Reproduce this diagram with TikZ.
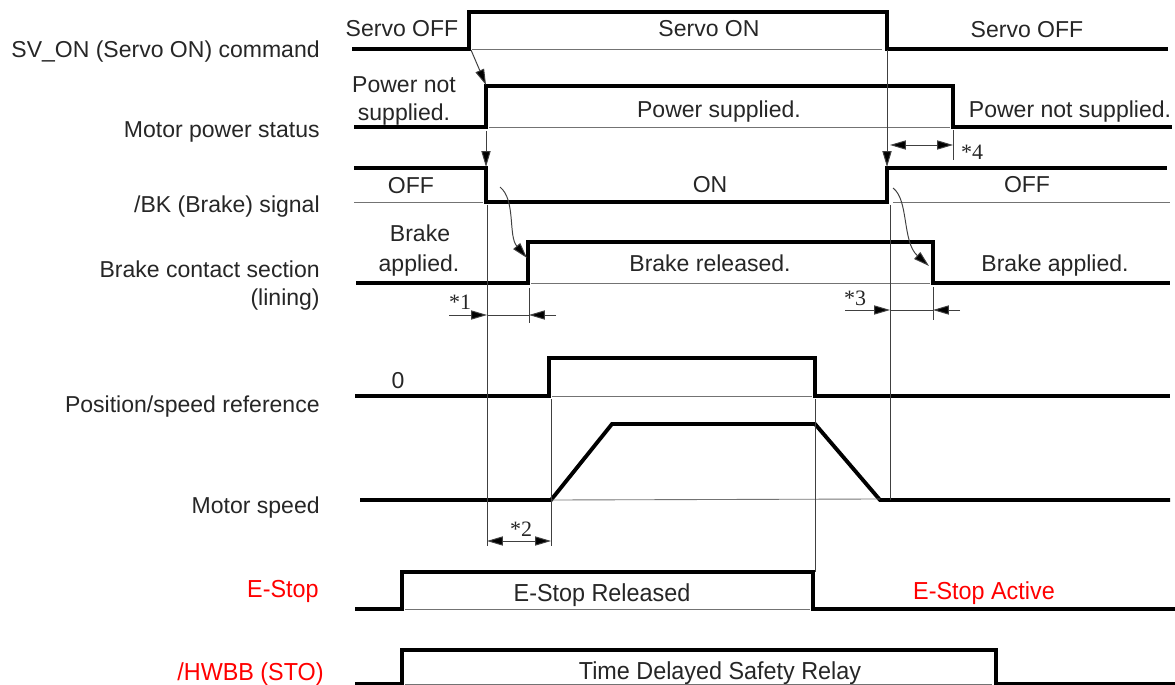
\documentclass[tikz,border=0pt]{standalone}
\usepackage{fontspec}
\setmainfont{Liberation Sans}
\newfontfamily\stopfont[FakeStretch=0.95]{Liberation Sans}
\newfontfamily\notefont{Liberation Serif}
\usetikzlibrary{arrows.meta}
\definecolor{stopred}{RGB}{255,0,0}
\begin{document}
\begin{tikzpicture}[x=0.02cm,y=-0.02cm,
    every node/.style={inner sep=0pt,text=black!85,font=\fontsize{13.1}{15}\selectfont},
    sig/.style={line width=2.2pt},
    base/.style={black!55,line width=.5pt},
    guide/.style={black!75,line width=.55pt},
    tip/.style={-{Triangle[length=9pt,width=5.2pt,fill=black]}},
    both/.style={{Triangle[length=9pt,width=5.2pt,fill=black]}-{Triangle[length=9pt,width=5.2pt,fill=black]}},
    lbl/.style={anchor=base east},
    txt/.style={anchor=base},
    note/.style={anchor=base,font=\notefont\fontsize{12.5}{14}\selectfont},
    stop/.style={anchor=base,font=\stopfont\fontsize{14}{16}\selectfont}]
    \useasboundingbox (0,0) rectangle (1175,685);
    % row names
    \node[lbl] (nSvon) at (320,58) {SV\_ON (Servo ON) command};
    \node[lbl] (nPower) at (320,138) {Motor power status};
    \node[lbl] (nBk) at (320,213) {/BK (Brake) signal};
    \node[lbl] (nBrake) at (320,278) {Brake contact section};
    \node[lbl] (nLining) at (320,306) {(lining)};
    \node[lbl] (nRef) at (320,412) {Position/speed reference};
    \node[lbl] (nSpeed) at (320,513) {Motor speed};
    \node[lbl,font=\stopfont\fontsize{14}{16}\selectfont,text=stopred] (nEstop) at (319,597) {E-Stop};
    \node[lbl,font=\stopfont\fontsize{14}{16}\selectfont,text=stopred] (nHwbb) at (324,680) {/HWBB (STO)};
    % waveforms
    \draw[sig] (352,49) -- (469,49) -- (469,12) -- (887,12) -- (887,49) -- (1168,49);
    \draw[base] (472,49) -- (882,49);
    \draw[sig] (354,127) -- (486,127) -- (486,86) -- (953,86) -- (953,127) -- (1172,127);
    \draw[base] (489,127) -- (950,127);
    \draw[sig] (354,168) -- (486,168) -- (486,202) -- (887,202) -- (887,168) -- (1167,168);
    \draw[base] (354,202) -- (483,202) (893,202) -- (1170,202);
    \draw[sig] (356,283) -- (528,283) -- (528,242) -- (933,242) -- (933,283) -- (1170,283);
    \draw[base] (531,283) -- (930,283);
    \draw[sig] (355,396) -- (549,396) -- (549,358) -- (815,358) -- (815,396) -- (1170,396);
    \draw[base] (552,396) -- (812,396);
    \draw[sig] (360,500) -- (551,500) -- (612,424) -- (815,424) -- (880,500) -- (1170,500);
    \draw[base] (552,500) -- (880,499);
    \draw[sig] (355,609) -- (402,609) -- (402,572) -- (813,572) -- (813,609) -- (1175,609);
    \draw[base] (405,609) -- (810,609);
    \draw[sig] (355,684) -- (402,684) -- (402,650) -- (996,650) -- (996,684) -- (1175,684);
    \draw[base] (405,684) -- (992,684);
    % timing marks
    \coordinate (svOn) at (471,50);
    \coordinate (pwrOn) at (486,85);
    \coordinate (pwrLow) at (486,131);
    \coordinate (bkOn) at (486,167);
    \coordinate (svOff) at (887,50);
    \coordinate (bkOff) at (887,167);
    \coordinate (bkFall) at (500,187);
    \coordinate (brkOff) at (527,258);
    \coordinate (bkRise) at (893,188);
    \coordinate (brkOn) at (929,266);
    \draw[guide,tip] (svOn) -- (pwrOn);
    \draw[guide,tip] (pwrLow) -- (bkOn);
    \draw[guide,tip] (svOff) -- (bkOff);
    \draw[guide,tip] (bkFall) .. controls (516,200) and (508,236) .. (brkOff);
    \draw[guide,tip] (bkRise) .. controls (909,200) and (902,242) .. (brkOn);
    \draw[guide] (487,205) -- (487,546);
    \draw[guide] (890,205) -- (890,500);
    \draw[guide] (551,399) -- (551,546);
    \draw[guide] (815,399) -- (815,572);
    \draw[guide] (529,288) -- (529,323);
    \draw[guide] (933,287) -- (933,320);
    \draw[guide] (953,130) -- (953,160);
    \draw[guide,tip] (449,315) -- (487,315);
    \draw[guide] (487,315) -- (529,315);
    \draw[guide,tip] (556,315) -- (529,315);
    \draw[guide,tip] (845,310) -- (890,310);
    \draw[guide] (890,310) -- (933,310);
    \draw[guide,tip] (960,310) -- (933,310);
    \draw[guide,both] (890,145) -- (953,145);
    \draw[guide,both] (487,541) -- (551,541);
    \node[note] (n1) at (460,310) {*1};
    \node[note] (n2) at (521,536) {*2};
    \node[note] (n3) at (855,306) {*3};
    \node[note] (n4) at (972,160) {*4};
    % state texts
    \node[txt] (tSvOff) at (402,37) {Servo OFF};
    \node[txt] (tSvOn) at (709,37) {Servo ON};
    \node[txt] (tSvOff2) at (1027,38) {Servo OFF};
    \node[txt] (tNoPwr) at (404,93) {Power not};
    \node[txt] (tNoPwr2) at (404,121) {supplied.};
    \node[txt] (tPwr) at (719,118) {Power supplied.};
    \node[txt] (tNoPwr3) at (1070,118) {Power not supplied.};
    \node[txt] (tOff) at (411,194) {OFF};
    \node[txt] (tOn) at (710,193) {ON};
    \node[txt] (tOff2) at (1027,193) {OFF};
    \node[txt] (tApp) at (420,242) {Brake};
    \node[txt] (tApp2) at (419,272) {applied.};
    \node[txt] (tRel) at (710,272) {Brake released.};
    \node[txt] (tApp3) at (1055,272) {Brake applied.};
    \node[txt] (tZero) at (398,388) {0};
    \node[stop] (tEsRel) at (602,601) {E-Stop Released};
    \node[stop,text=stopred] (tEsAct) at (984,599) {E-Stop Active};
    \node[stop] (tRelay) at (720,679) {Time Delayed Safety Relay};
\end{tikzpicture}
\end{document}
